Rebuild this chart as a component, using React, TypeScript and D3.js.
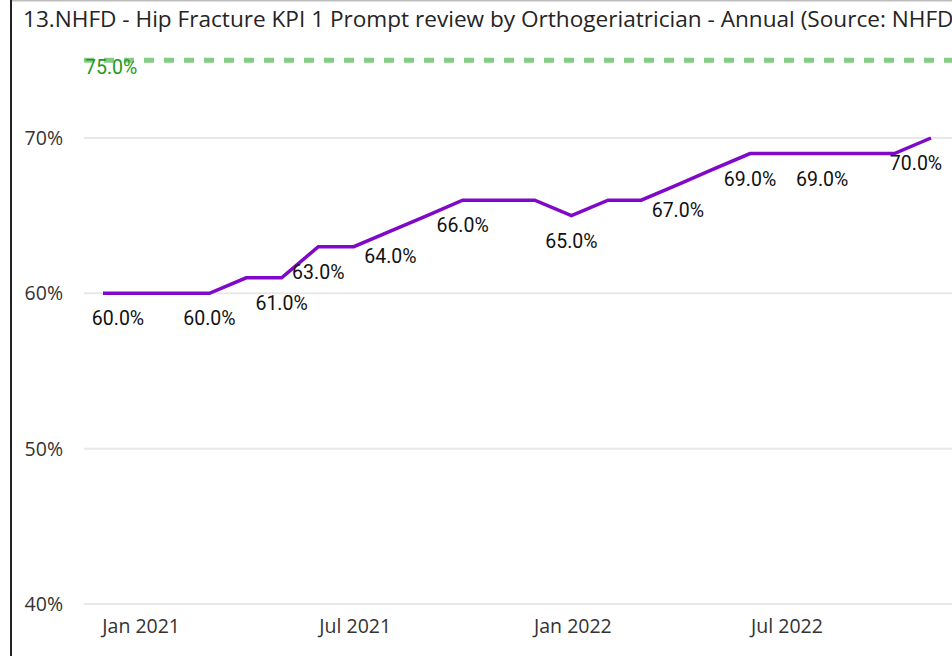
import React from "react";
import * as d3 from "d3";

const months = [
  "2020-12", "2021-01", "2021-02", "2021-03", "2021-04", "2021-05",
  "2021-06", "2021-07", "2021-08", "2021-09", "2021-10", "2021-11",
  "2021-12", "2022-01", "2022-02", "2022-03", "2022-04", "2022-05",
  "2022-06", "2022-07", "2022-08", "2022-09", "2022-10", "2022-11",
];
const values = [
  60, 60, 60, 60, 61, 61, 63, 63, 64, 65, 66, 66,
  66, 65, 66, 66, 67, 68, 69, 69, 69, 69, 69, 70,
];
const labeledMonths = [
  "2020-12", "2021-03", "2021-05", "2021-06", "2021-08", "2021-10",
  "2022-01", "2022-04", "2022-06", "2022-08", "2022-11",
];
const yTicks = [40, 50, 60, 70];
const xTicks = ["2021-01", "2021-07", "2022-01", "2022-07"];
const targetValue = 75;
const title =
  "13.NHFD - Hip Fracture KPI 1 Prompt review by Orthogeriatrician - Annual (Source: NHFD)";

const W = 952;
const H = 656;
const parse = d3.timeParse("%Y-%m");

export default function App() {
  const data = months.map((m, i) => ({ date: parse(m) as Date, value: values[i], key: m }));
  const x = d3
    .scaleTime()
    .domain([parse("2020-12") as Date, parse("2022-11") as Date])
    .range([103, 931]);
  const y = d3.scaleLinear().domain([40, 70]).range([604, 138]);
  const plotLeft = 84;
  const plotRight = 952;

  const line = d3
    .line<{ date: Date; value: number }>()
    .x((d) => x(d.date))
    .y((d) => y(d.value));

  const fmtTick = d3.timeFormat("%b %Y");
  const labelHalf = 27;

  return (
    <svg
      width={W}
      height={H}
      style={{ position: "absolute", left: 0, top: 0, background: "#fff" }}
    >
      {/* frame */}
      <line x1={11} x2={W} y1={0.5} y2={0.5} stroke="#bdbdbd" strokeWidth={2} />
      <line x1={11} x2={11} y1={0} y2={H} stroke="#222" strokeWidth={2} />
      {/* title */}
      <text
        x={23}
        y={27}
        fontFamily="'Open Sans', 'Noto Sans', sans-serif"
        fontSize={22.6}
        fill="#252423"
      >
        {title}
      </text>
      {/* gridlines and y ticks */}
      {yTicks.map((t) => (
        <g key={t}>
          <line
            x1={plotLeft}
            x2={plotRight}
            y1={y(t)}
            y2={y(t)}
            stroke="#e8e8e8"
            strokeWidth={2}
          />
          <text
            x={63}
            y={y(t)}
            dy="0.36em"
            textAnchor="end"
            fontFamily="'Open Sans', 'Noto Sans', sans-serif"
            fontSize={19.5}
            fill="#333"
          >
            {t}%
          </text>
        </g>
      ))}
      {/* x ticks */}
      {xTicks.map((t) => (
        <text
          key={t}
          x={x(parse(t) as Date) + 1.5}
          y={633}
          textAnchor="middle"
          fontFamily="'Open Sans', 'Noto Sans', sans-serif"
          fontSize={19.5}
          fill="#333"
        >
          {fmtTick(parse(t) as Date)}
        </text>
      ))}
      {/* target line */}
      <line
        x1={plotLeft}
        x2={plotRight}
        y1={y(targetValue)}
        y2={y(targetValue)}
        stroke="#85cc85"
        strokeWidth={5}
        strokeDasharray="10 10"
      />
      <text
        x={85}
        y={74}
        fontFamily="Roboto, sans-serif"
        fontSize={19.5}
        fontWeight={400}
        fill="#1f9a1f"
      >
        {targetValue.toFixed(1)}%
      </text>
      {/* series line */}
      <path
        d={line(data) || ""}
        fill="none"
        stroke="#8008c8"
        strokeWidth={3.5}
        strokeLinejoin="miter"
      />
      {/* data labels */}
      {data
        .filter((d) => labeledMonths.includes(d.key))
        .map((d) => {
          const px = Math.max(91 + labelHalf, Math.min(943 - labelHalf, x(d.date)));
          return (
            <text
              key={d.key}
              x={px}
              y={y(d.value) + 32}
              textAnchor="middle"
              fontFamily="Roboto, sans-serif"
              fontSize={19.5}
              fontWeight={400}
              fill="#111"
            >
              {d.value.toFixed(1)}%
            </text>
          );
        })}
    </svg>
  );
}
